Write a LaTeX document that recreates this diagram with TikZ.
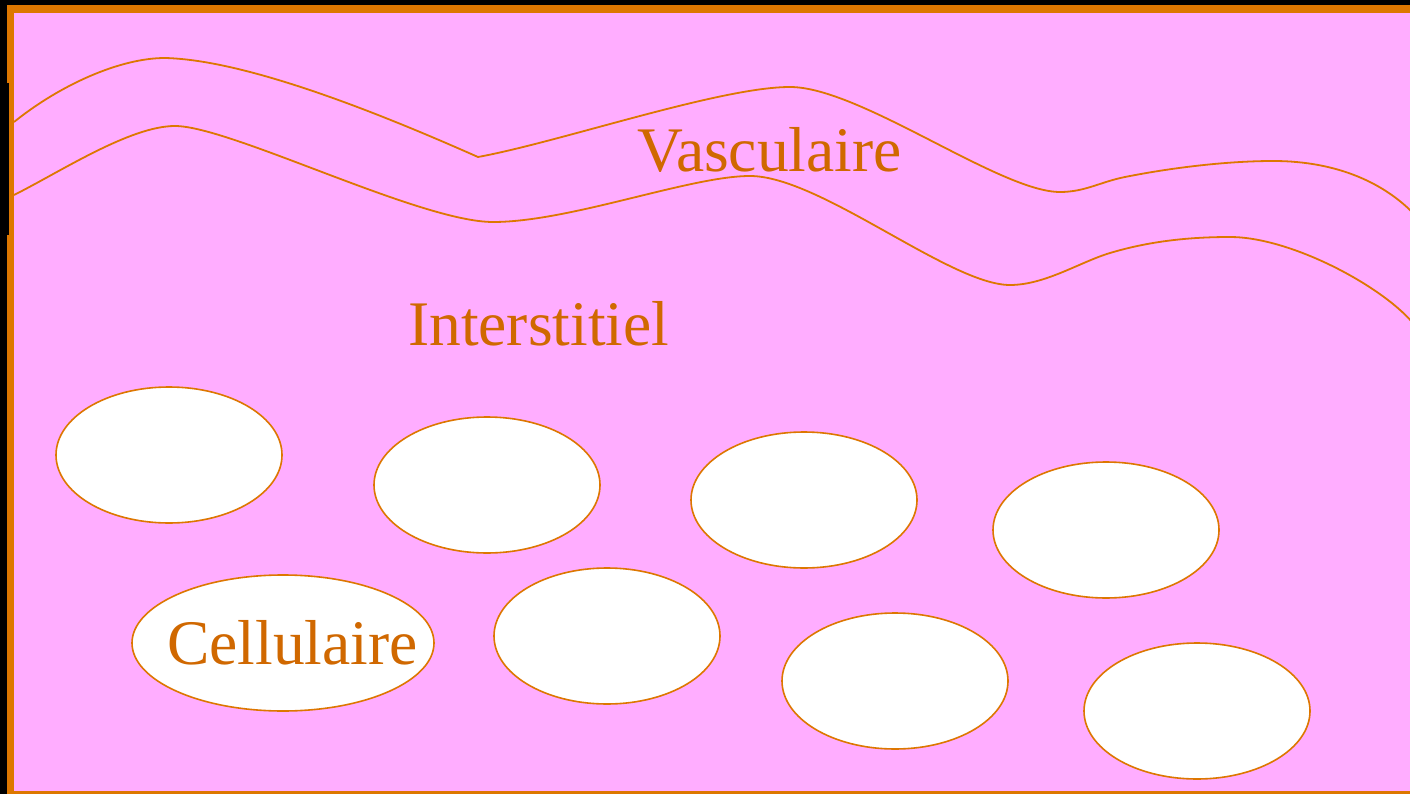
\documentclass[tikz,border=0pt]{standalone}
\usepackage{fontspec}
\setmainfont{Liberation Serif}
\definecolor{bgpink}{HTML}{FFADFF}
\definecolor{lineor}{HTML}{DD7700}
\definecolor{textor}{HTML}{D06800}
\tikzset{
  cell/.style={ellipse, draw=lineor, line width=1.6pt, fill=white, minimum width=226pt, minimum height=136pt, inner sep=0pt},
  lbl/.style={text=textor, font=\fontsize{63.5}{70}\selectfont, inner sep=0pt, anchor=base west},
  wave/.style={draw=lineor, line width=1.8pt}
}
\usetikzlibrary{shapes.geometric}
\begin{document}
\begin{tikzpicture}[x=1pt,y=-1pt]
\useasboundingbox (0,0) rectangle (1410,794);
\fill[black] (0,0) rectangle (1410,794);
\fill[lineor] (7,5) rectangle (1410,794);
\fill[black] (0,83) rectangle (9,235);
\fill[lineor] (9,83) rectangle (14,235);
\fill[bgpink] (14,13) rectangle (1410,791);
% upper vessel wall
\draw[wave] (14,122) .. controls (60,85) and (120,58) .. (165,58)
  .. controls (250,60) and (390,118) .. (478,157)
  .. controls (560,142) and (720,87) .. (790,87)
  .. controls (860,87) and (1000,192) .. (1060,192)
  .. controls (1085,192) and (1100,182) .. (1125,177)
  .. controls (1175,167) and (1230,161) .. (1273,161)
  .. controls (1340,161) and (1385,185) .. (1412,212);
% lower vessel wall
\draw[wave] (14,195) .. controls (60,172) and (130,126) .. (175,126)
  .. controls (230,126) and (420,222) .. (493,222)
  .. controls (570,222) and (690,176) .. (750,176)
  .. controls (820,176) and (950,285) .. (1010,285)
  .. controls (1045,285) and (1080,262) .. (1110,253)
  .. controls (1150,241) and (1190,237) .. (1230,237)
  .. controls (1290,237) and (1380,285) .. (1412,322);
% cells
\node[cell] (c1) at (169,455) {};
\node[cell] (c2) at (487,485) {};
\node[cell] (c3) at (804,500) {};
\node[cell] (c4) at (1106,530) {};
\node[cell, minimum width=302pt] (c5) at (283,643) {};
\node[cell] (c6) at (607,636) {};
\node[cell] (c7) at (895,681) {};
\node[cell] (c8) at (1197,711) {};
% labels
\node[lbl] (vasc) at (637,172) {Vasculaire};
\node[lbl] (inter) at (408,345) {Interstitiel};
\node[lbl] (cellu) at (167,664) {Cellulaire};
\end{tikzpicture}
\end{document}
